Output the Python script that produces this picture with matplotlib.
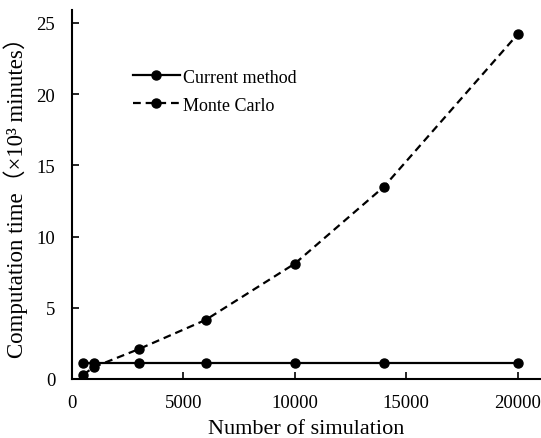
import matplotlib
matplotlib.use("Agg")
import matplotlib.pyplot as plt

sims = [500, 1000, 3000, 6000, 10000, 14000, 20000]
current_method = [1.1, 1.1, 1.1, 1.1, 1.1, 1.1, 1.1]
monte_carlo = [0.3, 0.85, 2.1, 4.15, 8.1, 13.5, 24.2]
xticks = [0, 5000, 10000, 15000, 20000]
yticks = [0, 5, 10, 15, 20, 25]

plt.rcParams['font.family'] = ['Liberation Serif', 'Noto Sans CJK SC']

fig = plt.figure(figsize=(5.41, 4.39), dpi=100)
ax = fig.add_axes([72/541, 1-380/439, (540-72)/541, (380-11)/439])

ax.plot(sims, current_method, '-', color='black', lw=1.6, marker='o', ms=6.5,
        label='Current method')
ax.plot(sims, monte_carlo, '--', color='black', lw=1.6, marker='o', ms=6.5,
        label='Monte Carlo', dashes=(3.5, 2.2))

ax.set_xlim(0, 21000)
ax.set_ylim(0, 25.9)
ax.set_xticks(xticks)
ax.set_yticks(yticks)
ax.tick_params(direction='in', length=5, width=1.2, labelsize=13.5)
ax.tick_params(axis='x', pad=11)
ax.tick_params(axis='y', pad=12)
for s in ['top', 'right']:
    ax.spines[s].set_visible(False)
for s in ['left', 'bottom']:
    ax.spines[s].set_linewidth(1.5)

ax.set_xlabel('Number of simulation', fontsize=16)
ax.set_ylabel('Computation time（×10³ minutes）', fontsize=16.5)
ax.xaxis.set_label_coords(0.5, -0.108)
ax.yaxis.set_label_coords(-0.094, 0.508)

ax.legend(loc='upper left', bbox_to_anchor=(0.095, 0.885), frameon=False,
          fontsize=13, handlelength=2.6, labelspacing=0.6, handletextpad=0.2)

fig.savefig('out.png', dpi=100)
